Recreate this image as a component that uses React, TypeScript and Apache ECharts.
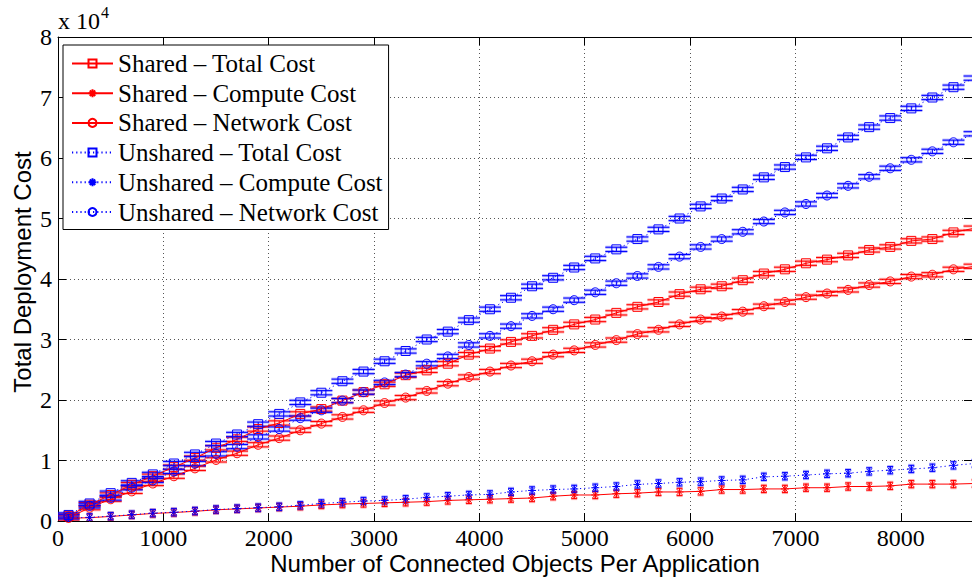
import React, { useEffect, useRef } from "react";
import * as echarts from "echarts";

// x positions: number of connected objects per application
const objectCounts = [
  100, 300, 500, 700, 900, 1100, 1300, 1500, 1700, 1900, 2100, 2300, 2500, 2700, 2900,
  3100, 3300, 3500, 3700, 3900, 4100, 4300, 4500, 4700, 4900, 5100, 5300, 5500, 5700,
  5900, 6100, 6300, 6500, 6700, 6900, 7100, 7300, 7500, 7700, 7900, 8100, 8300, 8500, 8700,
];

// values in units of 10^4
const sharedTotal = [
  0.08, 0.27, 0.43, 0.6, 0.74, 0.89, 1.04, 1.21, 1.35, 1.52, 1.62, 1.77, 1.85, 1.99, 2.13,
  2.26, 2.41, 2.49, 2.6, 2.75, 2.85, 2.96, 3.06, 3.16, 3.25, 3.33, 3.44, 3.54, 3.62,
  3.75, 3.83, 3.88, 3.98, 4.09, 4.16, 4.26, 4.32, 4.39, 4.48, 4.53, 4.63, 4.66, 4.77, 4.84,
];
const sharedCompute = [
  0.045, 0.055, 0.075, 0.1, 0.125, 0.14, 0.16, 0.185, 0.2, 0.215, 0.23, 0.245, 0.265, 0.28, 0.29,
  0.3, 0.31, 0.32, 0.34, 0.35, 0.36, 0.37, 0.38, 0.41, 0.43, 0.43, 0.45, 0.46, 0.48,
  0.48, 0.49, 0.52, 0.52, 0.53, 0.53, 0.55, 0.55, 0.57, 0.57, 0.58, 0.61, 0.61, 0.61, 0.62,
];
const sharedNetwork = [
  0.05, 0.22, 0.36, 0.49, 0.62, 0.74, 0.87, 1.01, 1.12, 1.26, 1.37, 1.5, 1.61, 1.72, 1.83,
  1.95, 2.04, 2.15, 2.27, 2.38, 2.47, 2.57, 2.64, 2.75, 2.82, 2.91, 2.99, 3.09, 3.16,
  3.25, 3.33, 3.38, 3.46, 3.55, 3.62, 3.7, 3.76, 3.82, 3.9, 3.96, 4.04, 4.07, 4.16, 4.21,
];
const unsharedTotal = [
  0.1, 0.29, 0.46, 0.63, 0.77, 0.95, 1.1, 1.28, 1.43, 1.6, 1.77, 1.96, 2.12, 2.31, 2.47,
  2.64, 2.81, 3.0, 3.13, 3.32, 3.5, 3.69, 3.88, 4.02, 4.19, 4.34, 4.49, 4.66, 4.82,
  5.0, 5.2, 5.33, 5.48, 5.68, 5.85, 6.01, 6.16, 6.34, 6.51, 6.66, 6.82, 7.0, 7.17, 7.32,
];
const unsharedCompute = [
  0.05, 0.06, 0.08, 0.105, 0.13, 0.145, 0.165, 0.19, 0.205, 0.22, 0.235, 0.26, 0.29, 0.31, 0.33,
  0.34, 0.36, 0.39, 0.41, 0.43, 0.44, 0.48, 0.505, 0.52, 0.53, 0.55, 0.57, 0.605, 0.62,
  0.64, 0.65, 0.67, 0.68, 0.73, 0.74, 0.76, 0.78, 0.79, 0.82, 0.84, 0.86, 0.88, 0.92, 0.95,
];
const unsharedNetwork = [
  0.07, 0.25, 0.38, 0.55, 0.67, 0.82, 0.95, 1.11, 1.23, 1.39, 1.52, 1.7, 1.83, 1.99, 2.13,
  2.29, 2.42, 2.6, 2.72, 2.91, 3.06, 3.22, 3.39, 3.5, 3.65, 3.78, 3.93, 4.05, 4.2,
  4.37, 4.53, 4.66, 4.78, 4.95, 5.1, 5.24, 5.38, 5.54, 5.69, 5.83, 5.97, 6.11, 6.26, 6.4,
];

// error bar half-heights (units of 10^4)
const costErrorHalf = 0.035;
const computeErrorHalf = 0.06;

const yTicks = [0, 1, 2, 3, 4, 5, 6, 7, 8];

const seriesNames = [
  "Shared \u2013 Total Cost",
  "Shared \u2013 Compute Cost",
  "Shared \u2013 Network Cost",
  "Unshared \u2013 Total Cost",
  "Unshared \u2013 Compute Cost",
  "Unshared \u2013 Network Cost",
];

const xAxisTitle = "Number of Connected Objects Per Application";
const yAxisTitle = "Total Deployment Cost";

const RED = "#ff0000";
const BLUE = "#0000ff";
const SERIF = "'Liberation Serif', 'Times New Roman', serif";
const SANS = "'Liberation Sans', Arial, sans-serif";
const STAR = "path://M5,0L5,10M0,5L10,5M1.6,1.6L8.4,8.4M1.6,8.4L8.4,1.6";

export default function App() {
  const ref = useRef<HTMLDivElement>(null);

  useEffect(() => {
    if (!ref.current) return;
    const chart = echarts.init(ref.current, undefined, { renderer: "svg" });

    const pairs = (ys: number[]) => objectCounts.map((x, i) => [x, ys[i]]);

    const lineSeries = (
      name: string,
      ys: number[],
      color: string,
      symbol: string,
      size: number,
      dotted: boolean
    ) => ({
      name,
      type: "line",
      data: pairs(ys),
      symbol,
      symbolSize: size,
      showSymbol: true,
      showAllSymbol: true,
      clip: true,
      z: 3,
      lineStyle: { color, width: 1, type: dotted ? [1.2, 3] : "solid" },
      itemStyle: { color: "rgba(0,0,0,0)", borderColor: color, borderWidth: 1 },
      emphasis: { disabled: true },
    });

    const errSeries = (ys: number[], color: string, half: number, capW: number) => ({
      type: "custom",
      data: pairs(ys),
      z: 2,
      clip: true,
      silent: true,
      renderItem: (params: any, api: any) => {
        const x = api.value(0);
        const y = api.value(1);
        const p = api.coord([x, y]);
        const top = api.coord([x, y + half])[1];
        const bot = api.coord([x, y - half])[1];
        const s = { stroke: color, lineWidth: 1 };
        const halo = { stroke: color, lineWidth: 3, opacity: 0.3 };
        return {
          type: "group",
          children: [
            { type: "line", shape: { x1: p[0] - capW, y1: top, x2: p[0] + capW, y2: top }, style: halo },
            { type: "line", shape: { x1: p[0] - capW, y1: bot, x2: p[0] + capW, y2: bot }, style: halo },
            { type: "line", shape: { x1: p[0], y1: top, x2: p[0], y2: bot }, style: s },
            { type: "line", shape: { x1: p[0] - capW, y1: top, x2: p[0] + capW, y2: top }, style: s },
            { type: "line", shape: { x1: p[0] - capW, y1: bot, x2: p[0] + capW, y2: bot }, style: s },
          ],
        };
      },
    });

    const axisCommon = {
      axisLine: { show: true, onZero: false, lineStyle: { color: "#000", width: 1 } },
      axisTick: { show: true, inside: true, length: 8, lineStyle: { color: "#000", width: 1 } },
    };

    chart.setOption({
      animation: false,
      backgroundColor: "#fff",
      grid: {
        left: 58,
        right: 0,
        top: 37,
        bottom: 59,
        containLabel: false,
        outerBoundsMode: "none",
      },
      xAxis: [
        {
          type: "value",
          position: "bottom",
          min: 0,
          max: 8676,
          interval: 1000,
          ...axisCommon,
          axisLabel: {
            showMaxLabel: false,
            fontFamily: SERIF,
            fontSize: 24,
            color: "#000",
            margin: 5,
            formatter: (v: number) => String(v),
          },
          splitLine: { show: true, lineStyle: { color: "#555", width: 1, type: [1, 3] } },
        },
        {
          type: "value",
          position: "top",
          min: 0,
          max: 8676,
          interval: 1000,
          ...axisCommon,
          axisLabel: { show: false },
          splitLine: { show: false },
        },
      ],
      yAxis: [
        {
          type: "value",
          position: "left",
          min: yTicks[0],
          max: yTicks[yTicks.length - 1],
          interval: 1,
          ...axisCommon,
          axisLabel: { fontFamily: SERIF, fontSize: 24, color: "#000", margin: 6 },
          splitLine: { show: true, lineStyle: { color: "#555", width: 1, type: [1, 3] } },
        },
        {
          type: "value",
          position: "right",
          min: yTicks[0],
          max: yTicks[yTicks.length - 1],
          interval: 1,
          ...axisCommon,
          axisLabel: { show: false },
          splitLine: { show: false },
        },
      ],
      legend: {
        data: seriesNames,
        orient: "vertical",
        left: 63,
        top: 45,
        itemWidth: 41,
        itemHeight: 10,
        itemGap: 4.7,
        padding: [6, 6, 5, 8],
        backgroundColor: "#fff",
        borderColor: "#000",
        borderWidth: 1,
        borderRadius: 0,
        textStyle: { fontFamily: SERIF, fontSize: 25, color: "#000", lineHeight: 24 },
        selectedMode: false,
        z: 10,
      },
      graphic: [
        {
          type: "text",
          left: 58,
          top: 9,
          style: { text: "x 10", fontFamily: SERIF, fontSize: 24, fill: "#000" },
        },
        {
          type: "text",
          left: 101,
          top: 4,
          style: { text: "4", fontFamily: SERIF, fontSize: 16, fill: "#000" },
        },
        {
          type: "text",
          x: 515,
          y: 563,
          style: {
            text: xAxisTitle,
            fontFamily: SANS,
            fontSize: 24,
            fill: "#000",
            align: "center",
            verticalAlign: "middle",
          },
        },
        {
          type: "text",
          x: 22,
          y: 272,
          rotation: Math.PI / 2,
          style: {
            text: yAxisTitle,
            fontFamily: SANS,
            fontSize: 24,
            fill: "#000",
            align: "center",
            verticalAlign: "middle",
          },
        },
      ],
      series: [
        errSeries(sharedTotal, RED, costErrorHalf, 11),
        errSeries(sharedCompute, RED, computeErrorHalf, 3),
        errSeries(sharedNetwork, RED, costErrorHalf, 11),
        errSeries(unsharedTotal, BLUE, costErrorHalf, 11),
        errSeries(unsharedCompute, BLUE, computeErrorHalf, 3),
        errSeries(unsharedNetwork, BLUE, costErrorHalf, 11),
        lineSeries(seriesNames[0], sharedTotal, RED, "rect", 9, false),
        lineSeries(seriesNames[1], sharedCompute, RED, STAR, 8, false),
        lineSeries(seriesNames[2], sharedNetwork, RED, "circle", 9, false),
        lineSeries(seriesNames[3], unsharedTotal, BLUE, "rect", 9, true),
        lineSeries(seriesNames[4], unsharedCompute, BLUE, STAR, 8, true),
        lineSeries(seriesNames[5], unsharedNetwork, BLUE, "circle", 9, true),
      ],
    });

    return () => chart.dispose();
  }, []);

  return (
    <div
      ref={ref}
      style={{ position: "fixed", left: 0, top: 0, width: 972, height: 580, background: "#fff" }}
    />
  );
}
